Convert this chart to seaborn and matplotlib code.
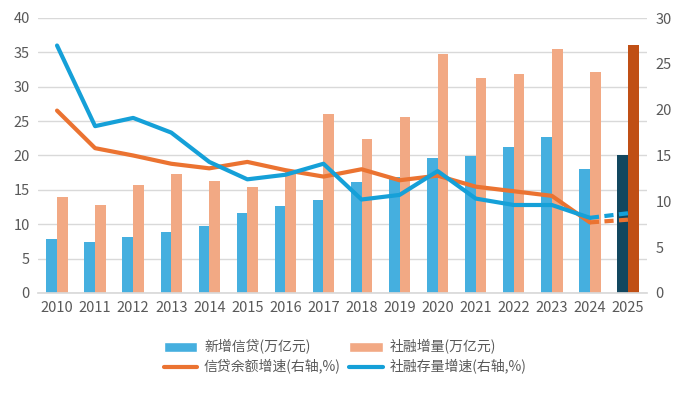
import matplotlib
matplotlib.use("Agg")
import matplotlib.pyplot as plt
import seaborn as sns
import pandas as pd
import numpy as np
from matplotlib.patches import Patch
from matplotlib.lines import Line2D

years = [str(y) for y in range(2010, 2026)]
new_loans = [7.8, 7.4, 8.1, 8.8, 9.7, 11.6, 12.6, 13.5, 16.1, 16.8, 19.6, 19.9, 21.2, 22.7, 18.0, 20.0]
tsf_flow = [13.9, 12.8, 15.7, 17.3, 16.3, 15.4, 17.8, 26.0, 22.4, 25.6, 34.8, 31.3, 31.8, 35.5, 32.1, 36.0]
loan_growth = [19.9, 15.8, 15.0, 14.1, 13.6, 14.3, 13.4, 12.7, 13.5, 12.3, 12.8, 11.6, 11.1, 10.6, 7.7, 8.0]
tsf_growth = [27.0, 18.2, 19.1, 17.5, 14.3, 12.4, 12.9, 14.1, 10.2, 10.7, 13.3, 10.3, 9.6, 9.6, 8.2, 8.7]

lab_loans = "新增信贷(万亿元)"
lab_tsf = "社融增量(万亿元)"
lab_lg = "信贷余额增速(右轴,%)"
lab_tg = "社融存量增速(右轴,%)"

c_blue = "#45AFDF"
c_orange = "#F2A984"
c_blue_dark = "#12475F"
c_orange_dark = "#C04F15"
c_line_orange = "#EB7331"
c_line_blue = "#15A0D8"
grey = "#595959"

sns.set_theme(style="white")
plt.rcParams["font.family"] = ["Noto Sans CJK SC", "DejaVu Sans"]

fig = plt.figure(figsize=(6.85, 3.94), dpi=100)
ax = fig.add_axes([38/685, 1-293/394, (647-38)/685, (293-18)/394])

df = pd.DataFrame({
    "year": years * 2,
    "value": new_loans + tsf_flow,
    "series": [lab_loans] * len(years) + [lab_tsf] * len(years),
})
sns.barplot(data=df, x="year", y="value", hue="series", order=years,
            hue_order=[lab_loans, lab_tsf], palette=[c_blue, c_orange],
            width=0.56, gap=0, dodge=True, legend=False, ax=ax, linewidth=0,
            saturation=1)
# recolor 2025 bars
n = len(years)
patches = [p for p in ax.patches]
patches[n - 1].set_facecolor(c_blue_dark)
patches[2 * n - 1].set_facecolor(c_orange_dark)

ax.set_ylim(0, 40)
ax.set_xlim(-0.5, n - 0.5)
ax.set_yticks(range(0, 41, 5))
ax.yaxis.grid(True, color="#D9D9D9", linewidth=1)
ax.set_axisbelow(True)
ax.set_xlabel("")
ax.set_ylabel("")
for s in ["top", "right", "left"]:
    ax.spines[s].set_visible(False)
ax.spines["bottom"].set_color("#D9D9D9")
ax.tick_params(axis="both", length=0, labelsize=10.5, colors=grey, pad=6)

ax2 = ax.twinx()
xpos = np.arange(n)
ld = pd.DataFrame({"x": xpos, "lg": loan_growth, "tg": tsf_growth})
solid = ld.iloc[: n - 1]
dash = ld.iloc[n - 2:]
sns.lineplot(data=solid, x="x", y="lg", color=c_line_orange, linewidth=3, ax=ax2)
sns.lineplot(data=solid, x="x", y="tg", color=c_line_blue, linewidth=3, ax=ax2)
l1 = sns.lineplot(data=dash, x="x", y="lg", color=c_line_orange, linewidth=3, ax=ax2)
l2 = sns.lineplot(data=dash, x="x", y="tg", color=c_line_blue, linewidth=3, ax=ax2)
for ln in ax2.lines[2:]:
    ln.set_dashes([2.2, 1.3])
ax2.set_ylim(0, 30)
ax2.set_xlim(-0.5, n - 0.5)
ax2.set_yticks(range(0, 31, 5))
ax2.set_xlabel("")
ax2.set_ylabel("")
for s in ["top", "right", "left", "bottom"]:
    ax2.spines[s].set_visible(False)
ax2.tick_params(axis="y", length=0, labelsize=10.5, colors=grey, pad=6)
ax2.grid(False)

handles = [
    Patch(facecolor=c_blue, label=lab_loans),
    Line2D([0], [0], color=c_line_orange, linewidth=3, label=lab_lg),
    Patch(facecolor=c_orange, label=lab_tsf),
    Line2D([0], [0], color=c_line_blue, linewidth=3, label=lab_tg),
]
leg = fig.legend(handles=handles, ncol=2, loc="center", bbox_to_anchor=(345/685, 1-357/394),
                 frameon=False, fontsize=10, handlelength=2.4, handleheight=0.7,
                 columnspacing=0.6, labelspacing=0.35, handletextpad=0.5)
for t in leg.get_texts():
    t.set_color(grey)

fig.savefig("out.png", dpi=100)
